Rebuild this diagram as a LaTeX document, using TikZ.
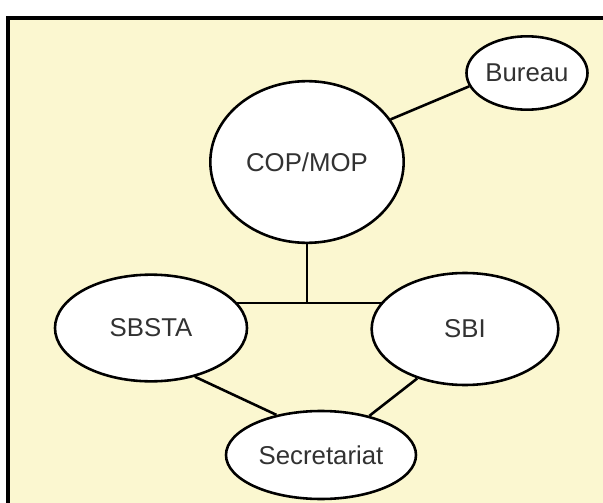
\documentclass[tikz,border=0pt]{standalone}
\usepackage{fontspec}
\setmainfont{Liberation Sans}
\usetikzlibrary{shapes.geometric,backgrounds}
\definecolor{paper}{RGB}{251,247,208}
\definecolor{ink}{RGB}{50,50,50}
\tikzset{
  body/.style={ellipse,draw,line width=2.2pt,fill=white,inner sep=0pt,
    text=ink,font=\fontsize{22}{26}\selectfont},
  link/.style={line width=2.2pt}
}
\begin{document}
\begin{tikzpicture}[x=0.03cm,y=-0.03cm]
      \useasboundingbox (0,0) rectangle (603,503);
      \draw
        (307,162) node[body,minimum width=5.8cm,minimum height=4.85cm] (cop){COP/MOP}
        (527,73) node[body,minimum width=3.63cm,minimum height=2.2cm] (bureau){Bureau}
        (151,328) node[body,minimum width=5.76cm,minimum height=3.2cm] (sbsta){SBSTA}
        (465,329) node[body,minimum width=5.6cm,minimum height=3.36cm] (sbi){SBI}
        (321,455) node[body,minimum width=5.7cm,minimum height=2.64cm] (secr){Secretariat};
      \coordinate (tee) at (307,303);
      \begin{scope}[on background layer]
        \fill[paper] (8,18) rectangle (603,503);
        \draw[line width=2.6pt] (8,503) -- (8,18) -- (603,18);
        \draw[link] (cop.27) to (bureau.193);
        \draw[link] (cop) to (tee);
        \draw[link] (sbsta |- tee) to (sbi |- tee);
        \draw[link] (sbsta.-48) to (secr.138);
        \draw[link] (sbi.226) to (secr.39);
      \end{scope}
    \end{tikzpicture}
\end{document}
